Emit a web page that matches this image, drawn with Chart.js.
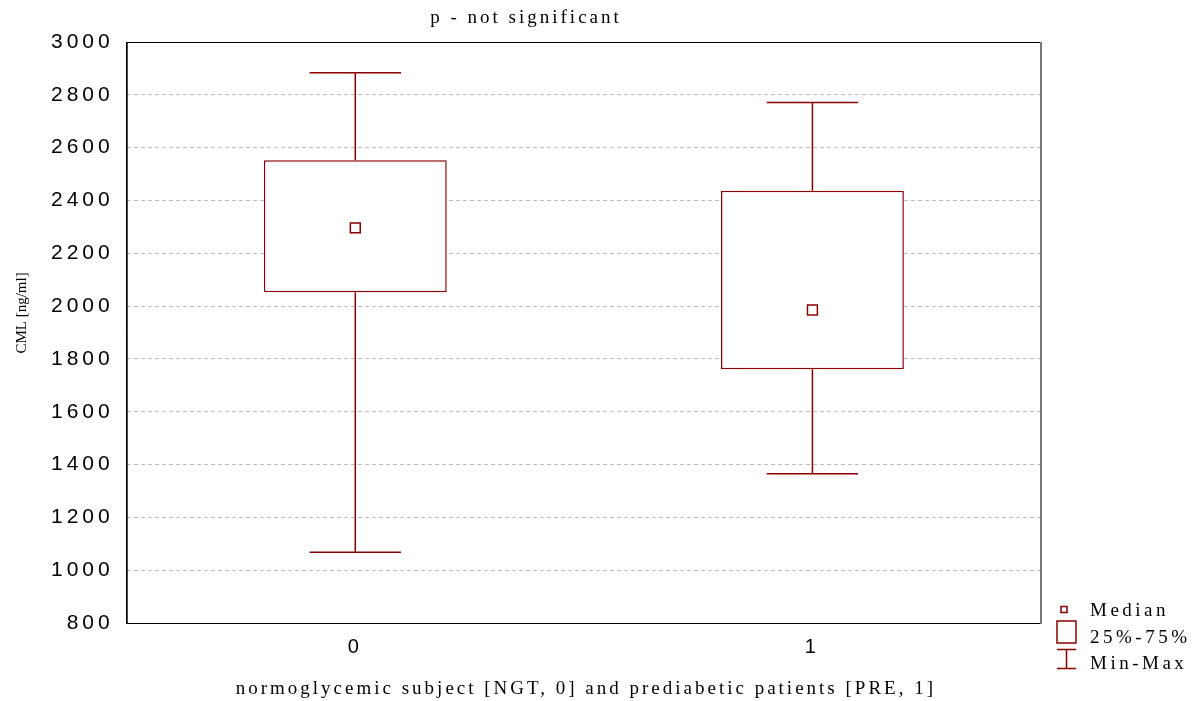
<!DOCTYPE html>
<html>
<head>
<meta charset="utf-8">
<script src="https://cdn.jsdelivr.net/npm/chart.js@4"></script>
<style>
  html, body { margin: 0; padding: 0; background: #fff; }
  #wrap { width: 1199px; height: 701px; }
</style>
</head>
<body>
<div id="wrap"><canvas id="cmlBox"></canvas></div>
<script>
const categories = ['0', '1'];
const minValues = [1068, 1365];
const q1Values = [2052, 1761];
const medianValues = [2296, 1985];
const q3Values = [2552, 2437];
const maxValues = [2884, 2771];
const yMin = 800;
const yMax = 3000;
const yStep = 200;

const boxRed = '#8b0000';
const serif = '"Liberation Serif", "Times New Roman", serif';

// whiskers: vertical line from the box to min/max plus a cap
const whiskers = {
  id: 'whiskers',
  beforeDatasetsDraw(chart) {
    const ctx = chart.ctx;
    const y = chart.scales.y;
    const boxes = chart.getDatasetMeta(1).data;
    ctx.save();
    ctx.strokeStyle = boxRed;
    ctx.lineWidth = 1.5;
    boxes.forEach((bar, i) => {
      const x = bar.x;
      const half = bar.width / 4;
      const yMaxPx = y.getPixelForValue(maxValues[i]);
      const yMinPx = y.getPixelForValue(minValues[i]);
      ctx.beginPath();
      ctx.moveTo(x, y.getPixelForValue(q3Values[i]));
      ctx.lineTo(x, yMaxPx);
      ctx.moveTo(x - half, yMaxPx);
      ctx.lineTo(x + half, yMaxPx);
      ctx.moveTo(x, y.getPixelForValue(q1Values[i]));
      ctx.lineTo(x, yMinPx);
      ctx.moveTo(x - half, yMinPx);
      ctx.lineTo(x + half, yMinPx);
      ctx.stroke();
    });
    ctx.restore();
  }
};

// wide letter spacing like the original export
const spacing = {
  id: 'spacing',
  beforeLayout(chart) { chart.ctx.letterSpacing = '4px'; },
  beforeDraw(chart) { chart.ctx.letterSpacing = '4px'; }
};

const frameAndText = {
  id: 'frameAndText',
  afterDraw(chart) {
    const ctx = chart.ctx;
    const a = chart.chartArea;
    ctx.save();
    ctx.setLineDash([]);
    ctx.lineWidth = 1;
    ctx.strokeStyle = '#000';
    ctx.beginPath();
    ctx.moveTo(a.left, a.top + 0.5);
    ctx.lineTo(a.right, a.top + 0.5);
    ctx.moveTo(a.left + 0.5, a.top);
    ctx.lineTo(a.left + 0.5, a.bottom);
    ctx.moveTo(a.left, a.bottom + 0.5);
    ctx.lineTo(a.right, a.bottom + 0.5);
    ctx.stroke();
    ctx.strokeStyle = '#777';
    ctx.lineWidth = 2;
    ctx.beginPath();
    ctx.moveTo(a.right, a.top);
    ctx.lineTo(a.right, a.bottom + 1);
    ctx.stroke();

    ctx.fillStyle = '#000';
    ctx.font = '19px ' + serif;
    ctx.letterSpacing = '3px';
    ctx.textBaseline = 'alphabetic';
    ctx.textAlign = 'center';
    ctx.fillText('p - not significant', 526, 23);
    ctx.fillText('normoglycemic subject [NGT, 0] and prediabetic patients [PRE, 1]', (a.left + a.right) / 2 + 2, 694);

    // y axis title
    ctx.save();
    ctx.letterSpacing = '0px';
    ctx.font = '15px ' + serif;
    ctx.translate(22, 313);
    ctx.rotate(-Math.PI / 2);
    ctx.textBaseline = 'middle';
    ctx.fillText('CML [ng/ml]', 0, 0);
    ctx.restore();

    // legend
    ctx.textAlign = 'left';
    ctx.letterSpacing = '3.5px';
    ctx.strokeStyle = boxRed;
    ctx.lineWidth = 1.5;
    ctx.strokeRect(1061, 606.5, 6, 6);
    ctx.strokeRect(1057, 621, 19, 22);
    ctx.beginPath();
    ctx.moveTo(1057, 649.5); ctx.lineTo(1076, 649.5);
    ctx.moveTo(1066.5, 649.5); ctx.lineTo(1066.5, 668.5);
    ctx.moveTo(1057, 668.5); ctx.lineTo(1076, 668.5);
    ctx.stroke();
    ctx.fillText('Median', 1090, 616);
    ctx.fillText('25%-75%', 1090, 643);
    ctx.fillText('Min-Max', 1090, 669);
    ctx.restore();
  }
};

new Chart(document.getElementById('cmlBox'), {
  type: 'bar',
  data: {
    labels: categories,
    datasets: [
      {
        type: 'line',
        label: 'Median',
        data: medianValues,
        showLine: false,
        pointStyle: 'rect',
        pointRadius: 7,
        pointBackgroundColor: '#fff',
        pointBorderColor: boxRed,
        pointBorderWidth: 1.5,
        order: 0
      },
      {
        label: '25%-75%',
        data: q1Values.map((q, i) => [q, q3Values[i]]),
        backgroundColor: '#fff',
        borderColor: boxRed,
        borderWidth: 1.5,
        borderSkipped: false,
        barPercentage: 0.4,
        categoryPercentage: 1,
        order: 1
      }
    ]
  },
  options: {
    responsive: true,
    maintainAspectRatio: false,
    animation: false,
    layout: { padding: { left: 38, top: 42, right: 158, bottom: 38 } },
    plugins: {
      legend: { display: false },
      tooltip: { enabled: false }
    },
    scales: {
      x: {
        grid: { display: false },
        border: { color: '#000' },
        ticks: {
          color: '#000',
          padding: 4,
          font: { family: '"Liberation Sans", Arial, sans-serif', size: 20 }
        }
      },
      y: {
        min: yMin,
        max: yMax,
        grid: { color: '#bdbdbd', drawTicks: false },
        border: { color: '#000', dash: [4, 3] },
        ticks: {
          stepSize: yStep,
          color: '#000',
          padding: 13,
          font: { family: '"Liberation Sans", Arial, sans-serif', size: 21 },
          callback: (v) => String(v)
        }
      }
    }
  },
  plugins: [spacing, whiskers, frameAndText]
});
</script>
</body>
</html>
